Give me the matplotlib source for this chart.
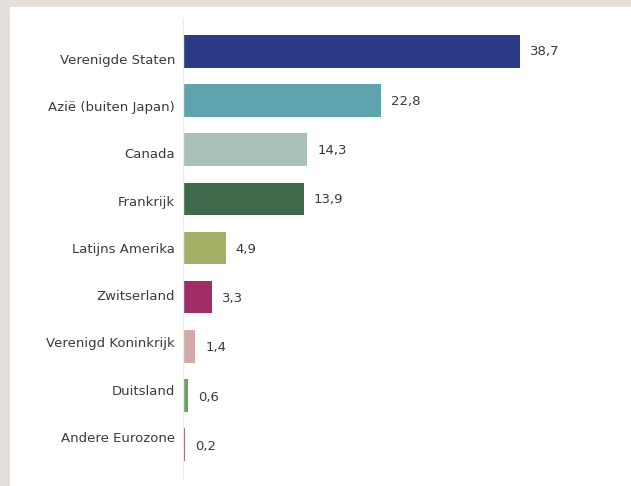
"""
Horizontale staafgrafiek: verdeling per regio.
"""
import matplotlib
matplotlib.use('Agg')
from matplotlib import pyplot as plt
from matplotlib.patches import Rectangle
from matplotlib import transforms

categories = ["Verenigde Staten", "Azië (buiten Japan)", "Canada", "Frankrijk",
              "Latijns Amerika", "Zwitserland", "Verenigd Koninkrijk",
              "Duitsland", "Andere Eurozone"]
values = [38.7, 22.8, 14.3, 13.9, 4.9, 3.3, 1.4, 0.6, 0.2]
colors = ["#2c3b85", "#5fa3ae", "#a9c1b9", "#3e6a4b", "#a3b167",
          "#a02d65", "#d3a9aa", "#6aa35f", "#9c4f80"]


def plot_chart():
    fig = plt.figure(figsize=(6.31, 4.86), dpi=100)
    fig.patch.set_facecolor("#e4dfdb")
    # white panel
    fig.patches.append(Rectangle((10 / 631, 0), 1, 479 / 486, transform=fig.transFigure,
                                 facecolor="white", edgecolor="none", zorder=-5))

    ax = fig.add_axes([183 / 631, 8 / 486, 435 / 631, 460 / 486])
    ax.set_facecolor("none")
    ax.set_zorder(2)
    y = list(range(len(categories)))
    ax.barh(y, values, height=0.67, color=colors, edgecolor="none", zorder=2)
    ax.set_xlim(0, 50)
    ax.set_ylim(len(categories) - 0.31, -0.69)

    for side in ["top", "right", "bottom"]:
        ax.spines[side].set_visible(False)
    ax.spines["left"].set_color("#ececec")
    ax.spines["left"].set_linewidth(1)
    ax.set_xticks([])
    ax.set_yticks([])

    # category labels drift slightly relative to the bars (as in the original)
    for i, name in enumerate(categories):
        shift = transforms.offset_copy(ax.transData, fig=fig, x=-8,
                                       y=-(8.5 - 1.8 * i), units="dots")
        ax.text(0, i, name, transform=shift, ha="right", va="center",
                fontsize=9.5, color="#3a3a3a")

    for i, v in enumerate(values):
        shift = transforms.offset_copy(ax.transData, fig=fig, x=10,
                                       y=-0.3 * i, units="dots")
        ax.text(v, i, f"{v:.1f}".replace(".", ","), transform=shift, ha="left",
                va="center", fontsize=9.5, color="#3a3a3a")

    fig.savefig("out.png", dpi=100, facecolor=fig.get_facecolor())


if __name__ == "__main__":
    plot_chart()
